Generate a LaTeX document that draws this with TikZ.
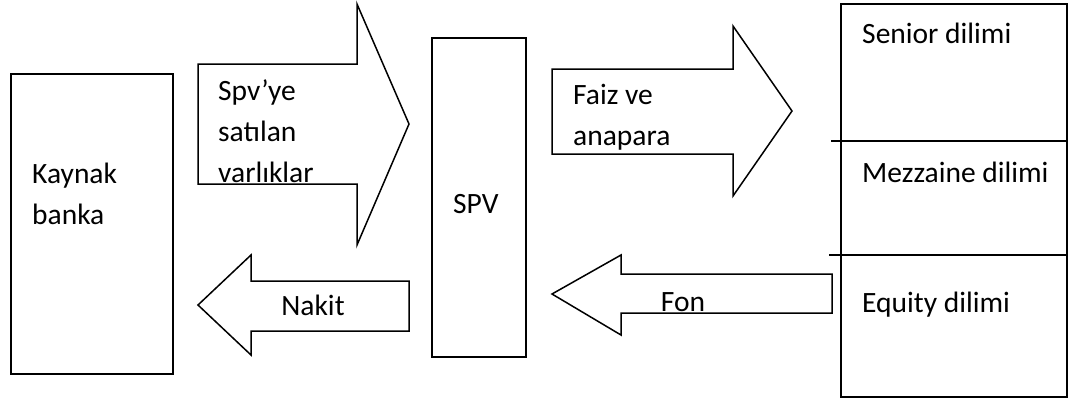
\documentclass[tikz,border=0pt]{standalone}
\usepackage{fontspec}
\setmainfont{Carlito}
\begin{document}
\begin{tikzpicture}[x=1pt,y=-1pt,
  box/.style={draw,line width=1.5pt,rectangle,inner sep=0pt,anchor=center},
  bigarrow/.style={draw,line width=1.5pt,line join=miter},
  lbl/.style={inner sep=0pt,font=\fontsize{29.5}{41}\selectfont,align=left},
  divider/.style={line width=1.5pt}]
\useasboundingbox (0,0) rectangle (1068,400);
% boxes
\node[box,minimum width=162pt,minimum height=300pt] (kb) at (92,224) {};
\node[box,minimum width=94pt,minimum height=319pt] (spv) at (479,197.5) {};
\node[box,minimum width=226pt,minimum height=393pt] (tr) at (954,200.5) {};
% tranche dividers
\coordinate (d1a) at (831,141); \coordinate (d1b) at (tr.east |- d1a);
\coordinate (d2a) at (829,255); \coordinate (d2b) at (tr.east |- d2a);
\draw[divider] (d1a) -- (d1b);
\draw[divider] (d2a) -- (d2b);
% block arrows
\draw[bigarrow] (198,64) -- (357,64) -- (357,4) -- (409,124) -- (357,245) -- (357,184) -- (198,184) -- cycle;
\draw[bigarrow] (552,69) -- (733,69) -- (733,26) -- (792,111) -- (733,196) -- (733,154) -- (552,154) -- cycle;
\draw[bigarrow] (409,281) -- (251,281) -- (251,255) -- (198,305) -- (251,355) -- (251,331) -- (409,331) -- cycle;
\draw[bigarrow] (832,274) -- (621,274) -- (621,255) -- (552,294) -- (621,335) -- (621,313) -- (832,313) -- cycle;
% labels
\node[lbl,anchor=west] (tkb) at (32,194) {Kaynak\\banka};
\node[lbl,anchor=west] (tsat) at (218,131) {Spv’ye\\satılan\\varlıklar};
\node[lbl,anchor=west] (tspv) at (453,204) {SPV};
\node[lbl,anchor=west] (tfaiz) at (573,117) {Faiz ve\\anapara};
\node[lbl] (tnak) at (313,305) {Nakit};
\node[lbl] (tfon) at (683,302) {Fon};
\node[lbl,anchor=west] (tsen) at (862,33) {Senior dilimi};
\node[lbl,anchor=west] (tmez) at (862,172) {Mezzaine dilimi};
\node[lbl,anchor=west] (teq) at (862,305) {Equity dilimi};
\end{tikzpicture}
\end{document}
